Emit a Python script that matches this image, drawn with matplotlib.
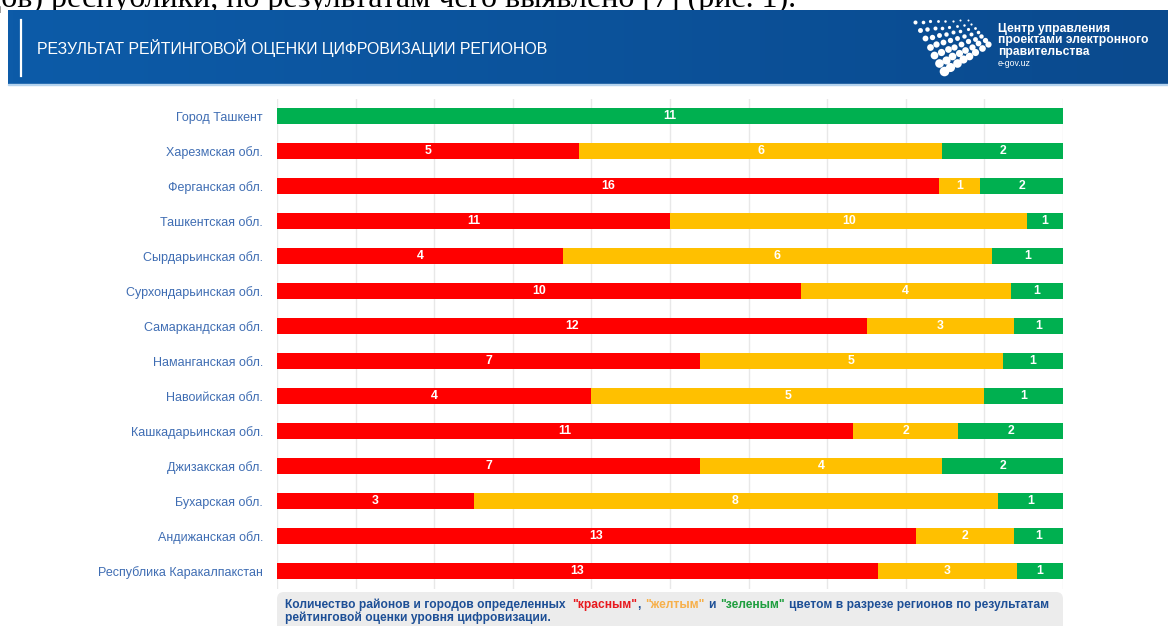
import numpy as np
import matplotlib
matplotlib.use("Agg")
import matplotlib.pyplot as plt
from matplotlib import font_manager
from matplotlib.colors import LinearSegmentedColormap
from matplotlib.patches import FancyBboxPatch, Rectangle

regions = [
    "Город Ташкент",
    "Харезмская обл.",
    "Ферганская обл.",
    "Ташкентская обл.",
    "Сырдарьинская обл.",
    "Сурхондарьинская обл.",
    "Самаркандская обл.",
    "Наманганская обл.",
    "Навоийская обл.",
    "Кашкадарьинская обл.",
    "Джизакская обл.",
    "Бухарская обл.",
    "Андижанская обл.",
    "Республика Каракалпакстан",
]
red = [0, 5, 16, 11, 4, 10, 12, 7, 4, 11, 7, 3, 13, 13]
yellow = [0, 6, 1, 10, 6, 4, 3, 5, 5, 2, 4, 8, 2, 3]
green = [11, 2, 2, 1, 1, 1, 1, 1, 1, 2, 2, 1, 1, 1]

title = "РЕЗУЛЬТАТ РЕЙТИНГОВОЙ ОЦЕНКИ ЦИФРОВИЗАЦИИ РЕГИОНОВ"
logo_lines = ["Центр управления", "проектами электронного", "правительства"]
logo_site = "e-gov.uz"
top_text = "дов) республики, по результатам чего выявлено [7] (рис. 1)."
note_line1 = [
    ("Количество районов и городов определенных", "#1d4f96"),
    ("\"красным\"", "#e8191e"),
    (",", "#1d4f96"),
    ("\"желтым\"", "#f7b04a"),
    ("и", "#1d4f96"),
    ("\"зеленым\"", "#1e9e3e"),
    ("цветом в разрезе регионов по результатам", "#1d4f96"),
]
note_line2 = "рейтинговой оценки уровня цифровизации."

RED, YEL, GRN = "#ff0000", "#ffc000", "#00b050"
W, H = 1168, 626

installed = {f.name for f in font_manager.fontManager.ttflist}
narrow = "Liberation Sans Narrow" if "Liberation Sans Narrow" in installed else None
SANS = ["Liberation Sans", "DejaVu Sans"]

fig = plt.figure(figsize=(W / 100, H / 100), dpi=100)
fig.patch.set_facecolor("white")

bg = fig.add_axes([0, 0, 1, 1])
bg.axis("off")

# clipped line of the page text above the slide
bg.text(-15, 7, top_text, family=["Liberation Serif", "DejaVu Serif"],
        fontsize=23, color="black", va="baseline", zorder=0)

# header banner
grad = np.linspace(0, 1, 256).reshape(1, -1)
cmap = LinearSegmentedColormap.from_list("hdr", ["#0d5ba8", "#0a4a8e"])
bg.imshow(grad, extent=(8, W, 84, 10), aspect="auto", cmap=cmap, zorder=1)
bg.add_patch(Rectangle((8, 83.5), W - 8, 1, color="#b5d3ee", zorder=2))
bg.plot([21, 21], [20, 76], color="white", lw=1.6, zorder=3)

if narrow:
    bg.text(37, 48, title, family=[narrow] + SANS, fontsize=13, color="white",
            va="center", zorder=3)
else:
    bg.text(37, 48, title, family=SANS, fontsize=11.4, color="white",
            va="center", zorder=3)

# logo dots: a perspective grid with bigger dots towards the bottom
p00, p10 = np.array([915, 22]), np.array([968, 20])
p01, p11 = np.array([944, 71]), np.array([988, 44])
nu, nv = 8, 7
for i in range(nv):
    for j in range(nu):
        u, v = j / (nu - 1), i / (nv - 1)
        p = (1 - u) * (1 - v) * p00 + u * (1 - v) * p10 + (1 - u) * v * p01 + u * v * p11
        size = 2 + 32 * ((1 - u) * 0.45 + v * 0.75) ** 2
        bg.scatter(p[0], p[1], s=size, color="white", lw=0, zorder=3)

for k, line in enumerate(logo_lines):
    bg.text(998, 29 + k * 11.5, line, family=SANS, fontsize=8.7, fontweight="bold",
            color="white", va="center", zorder=3)
bg.text(998, 64, logo_site, family=SANS, fontsize=6.3, color="white",
        va="center", zorder=3)

# footnote box
bg.add_patch(FancyBboxPatch((277, 592), 786, 45,
                            boxstyle="round,pad=0,rounding_size=7",
                            fc="#ececec", ec="none", zorder=1))
note_kw = dict(family=SANS, fontsize=8.65, fontweight="bold", zorder=3)
prev = bg.text(285, 611, note_line1[0][0], color=note_line1[0][1],
               va="bottom", **note_kw)
gaps = [5, 0, 3, 3, 3, 3]
for (s, c), gap in zip(note_line1[1:], gaps):
    prev = bg.annotate(s, xy=(1, 0), xycoords=prev, xytext=(gap, 0),
                       textcoords="offset points", va="bottom", ha="left",
                       color=c, **note_kw)
bg.text(285, 624, note_line2, color="#1d4f96", va="bottom", **note_kw)

bg.set_xlim(0, W)
bg.set_ylim(H, 0)

# chart
ax = fig.add_axes([277 / W, (H - 588.5) / H, 786 / W, 490 / H])
r, y, g = np.array(red), np.array(yellow), np.array(green)
tot = r + y + g
ypos = np.arange(len(regions))
left = np.zeros(len(regions))
for counts, color in [(r, RED), (y, YEL), (g, GRN)]:
    share = counts / tot * 100
    ax.barh(ypos, share, left=left, height=0.45, color=color, lw=0, zorder=2)
    for i in range(len(regions)):
        if counts[i] > 0:
            ax.text(left[i] + share[i] / 2, ypos[i], str(counts[i]), ha="center",
                    va="center", color="white", fontsize=8.8, fontweight="bold",
                    family=SANS, zorder=3)
    left = left + share

ax.set_xlim(0, 100)
ax.set_ylim(len(regions) - 0.5, -0.5)
ax.set_xticks(np.arange(0, 101, 10))
ax.tick_params(axis="x", length=0, labelbottom=False)
ax.grid(axis="x", color="#e8e8e8", lw=1)
ax.set_axisbelow(True)
ax.set_yticks(ypos, regions)
ax.tick_params(axis="y", length=0, pad=10, labelsize=9, labelcolor="#3f6db3")
for lab in ax.get_yticklabels():
    lab.set_family(SANS)
for s in ax.spines.values():
    s.set_visible(False)

fig.savefig("out.png", dpi=100)
